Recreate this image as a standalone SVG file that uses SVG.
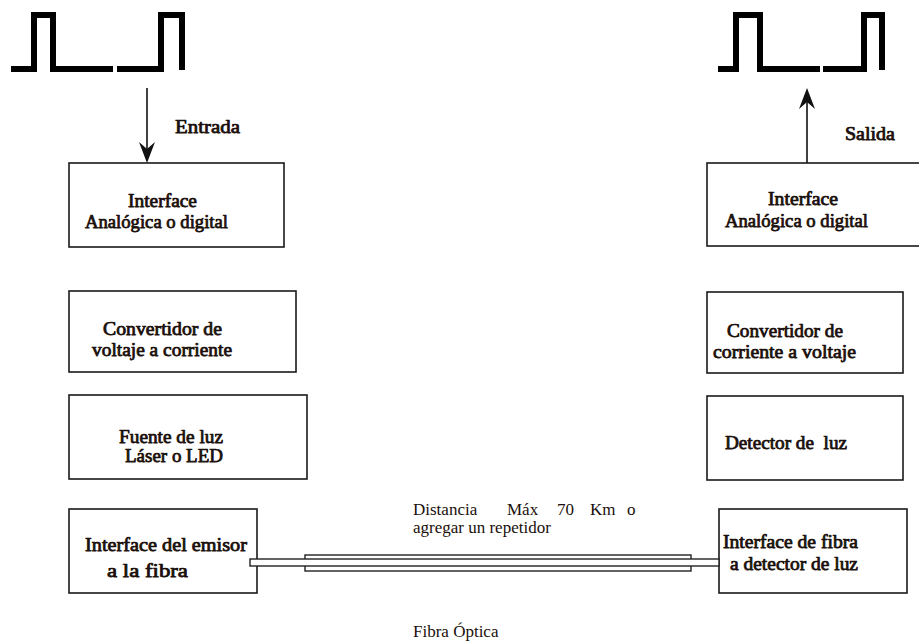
<svg xmlns="http://www.w3.org/2000/svg" width="919" height="642" viewBox="0 0 919 642">
<style>
.box{fill:#fff;stroke:#1a1a1a;stroke-width:1.6}
.t{font-family:"Liberation Serif","Times New Roman",serif;font-size:18px;fill:#1a0f0a;stroke:#1a0f0a;stroke-width:0.75;stroke-linejoin:round}
.r{font-family:"Liberation Serif","Times New Roman",serif;font-size:17px;fill:#1a0f0a}
.pulse{fill:none;stroke:#000;stroke-width:6;stroke-linejoin:miter}
.line{stroke:#111;stroke-width:1.6;fill:none}
.head{fill:#111}
.fib{fill:#fff;stroke:#222;stroke-width:1.4}
</style>
<rect width="919" height="642" fill="#fff"/>
<g id="pulse-in">
<polyline class="pulse" points="11,69 34,69 34,15 53,15 53,69 113,69"/>
<polyline class="pulse" points="117,69 161,69 161,15 182,15 182,70"/>
</g>
<g id="pulse-out">
<polyline class="pulse" points="718,69 736,69 736,15 760,15 760,69 820,69"/>
<polyline class="pulse" points="823,69 864,69 864,15 882,15 882,70"/>
</g>
<g id="connectors">
<line class="line" x1="147" y1="88" x2="147" y2="150"/>
<path class="head" d="M147,163 L139,142 L147,149 L155,142 Z"/>
<line class="line" x1="807" y1="163" x2="807" y2="100"/>
<path class="head" d="M807,88 L799,109 L807,102 L815,109 Z"/>
</g>
<text class="t" x="175" y="133" textLength="65" lengthAdjust="spacingAndGlyphs">Entrada</text>
<text class="t" x="845" y="140" textLength="50" lengthAdjust="spacingAndGlyphs">Salida</text>
<g id="in-interface">
<rect class="box" x="69" y="163" width="215" height="84"/>
<text class="t" x="128" y="207" textLength="69" lengthAdjust="spacingAndGlyphs">Interface</text>
<text class="t" x="85" y="228" textLength="143" lengthAdjust="spacingAndGlyphs">Analógica o digital</text>
</g>
<g id="conv-vi">
<rect class="box" x="69" y="291" width="227" height="81"/>
<text class="t" x="103" y="335" textLength="119" lengthAdjust="spacingAndGlyphs">Convertidor de</text>
<text class="t" x="92" y="356" textLength="140" lengthAdjust="spacingAndGlyphs">voltaje a corriente</text>
</g>
<g id="fuente">
<rect class="box" x="69" y="395" width="238" height="84"/>
<text class="t" x="119" y="443" textLength="104" lengthAdjust="spacingAndGlyphs">Fuente de luz</text>
<text class="t" x="125" y="462" textLength="98" lengthAdjust="spacingAndGlyphs">Láser o LED</text>
</g>
<g id="emisor">
<rect class="box" x="69" y="509" width="188" height="84"/>
<text class="t" x="85" y="551" textLength="162" lengthAdjust="spacingAndGlyphs">Interface del emisor</text>
<text class="t" x="107" y="577" textLength="81" lengthAdjust="spacingAndGlyphs">a la fibra</text>
</g>
<g id="out-interface">
<rect class="box" x="707" y="163" width="214" height="83"/>
<text class="t" x="768" y="205" textLength="70" lengthAdjust="spacingAndGlyphs">Interface</text>
<text class="t" x="725" y="227" textLength="143" lengthAdjust="spacingAndGlyphs">Analógica o digital</text>
</g>
<g id="conv-iv">
<rect class="box" x="707" y="292" width="196" height="81"/>
<text class="t" x="727" y="337" textLength="116" lengthAdjust="spacingAndGlyphs">Convertidor de</text>
<text class="t" x="713" y="358" textLength="143" lengthAdjust="spacingAndGlyphs">corriente a voltaje</text>
</g>
<g id="detector">
<rect class="box" x="707" y="396" width="196" height="84"/>
<text class="t" x="725" y="449" xml:space="preserve" textLength="122" lengthAdjust="spacingAndGlyphs">Detector de  luz</text>
</g>
<g id="receptor">
<rect class="box" x="719" y="509" width="188" height="84"/>
<text class="t" x="723" y="548" textLength="135" lengthAdjust="spacingAndGlyphs">Interface de fibra</text>
<text class="t" x="730" y="570" textLength="128" lengthAdjust="spacingAndGlyphs">a detector de luz</text>
</g>
<g id="fibra">
<rect class="fib" x="305" y="555" width="386" height="16"/>
<rect class="fib" x="250" y="559" width="469" height="7"/>
</g>
<text class="r" y="515"><tspan x="413">Distancia</tspan><tspan x="507">Máx</tspan><tspan x="557">70</tspan><tspan x="590">Km</tspan><tspan x="627">o</tspan></text>
<text class="r" x="413" y="533">agregar un repetidor</text>
<text class="r" x="413" y="637">Fibra Óptica</text>
</svg>
